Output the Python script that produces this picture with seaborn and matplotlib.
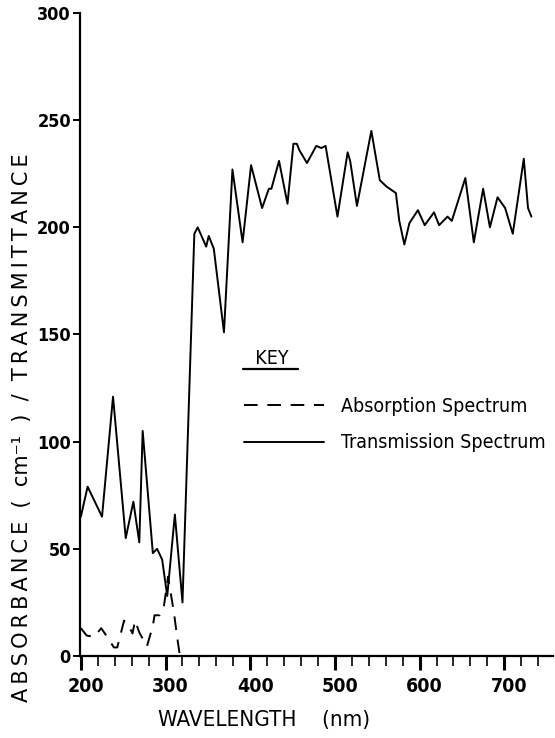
import matplotlib
matplotlib.use("Agg")
import matplotlib.pyplot as plt
import matplotlib.transforms as mtransforms
from matplotlib.ticker import MultipleLocator
from matplotlib.lines import Line2D
import seaborn as sns
import pandas as pd

# ---- data ----
trans_wl = [200, 208, 225, 238, 253, 262, 269, 273, 285, 290, 296, 302, 311, 320,
            334, 338, 348, 351, 357, 369, 379, 391, 401, 414, 422, 425, 434, 444,
            451, 455, 458, 467, 478, 484, 489, 503, 515, 518, 526, 543, 553, 561,
            572, 576, 582, 588, 598, 606, 617, 623, 633, 638, 654, 664, 675, 683,
            692, 701, 710, 723, 728, 732]
trans_val = [65, 79, 65, 121, 55, 72, 53, 105, 48, 50, 45, 28, 66, 25,
             197, 200, 191, 196, 190, 151, 227, 193, 229, 209, 218, 218, 231, 211,
             239, 239, 236, 230, 238, 237, 238, 205, 235, 231, 210, 245, 222, 219,
             216, 203, 192, 202, 208, 201, 207, 201, 205, 203, 223, 193, 218, 200,
             214, 209, 197, 232, 209, 205]

abs_wl = [200, 207, 216, 224, 231, 239, 243, 251, 256, 261, 264, 269, 278, 285,
          287, 293, 298, 303, 310, 314, 317]
abs_val = [13, 9.5, 9, 13, 9, 4, 4, 16.5, 14.5, 10.5, 16.5, 11, 4.5, 14,
           19, 19, 23, 37, 20, 8, 0]

x_ticks = [200, 300, 400, 500, 600, 700]
y_ticks = [0, 50, 100, 150, 200, 250, 300]

legend_title = "  KEY"
abs_label = "Absorption Spectrum"
trans_label = "Transmission Spectrum"
xlabel = "WAVELENGTH    (nm)"
thin = "\u2009"
ylabel = (thin.join("ABSORBANCE") + "  (  cm\u207b\u00b9  )  /  "
          + thin.join("TRANSMITTANCE"))

# ---- style ----
sns.set_style("ticks")
plt.rcParams["font.family"] = ["DejaVu Sans"]
plt.rcParams["font.stretch"] = "condensed"
plt.rcParams["text.color"] = "black"

W, H = 555, 738
fig = plt.figure(figsize=(W / 100, H / 100), dpi=100)
ax = fig.add_axes([80 / W, (H - 656) / H, 473 / W, (656 - 13) / H])

df_t = pd.DataFrame({"wl": trans_wl, "val": trans_val})
df_a = pd.DataFrame({"wl": abs_wl, "val": abs_val})

sns.lineplot(data=df_a, x="wl", y="val", ax=ax, color="black", lw=1.4,
             sort=False, label=abs_label)
sns.lineplot(data=df_t, x="wl", y="val", ax=ax, color="black", lw=1.4,
             sort=False, label=trans_label)
ax.lines[0].set_dashes([7, 5])

ax.set_xlim(199, 757.5)
ax.set_ylim(0, 300)
ax.set_xticks(x_ticks)
ax.xaxis.set_minor_locator(MultipleLocator(20))
ax.set_yticks(y_ticks)
ax.set_xlabel("")
ax.set_ylabel("")

for s in ["top", "right"]:
    ax.spines[s].set_visible(False)
for s in ["left", "bottom"]:
    ax.spines[s].set_linewidth(1.6)
    ax.spines[s].set_color("black")

ax.tick_params(axis="x", which="major", direction="out", length=10, width=2.2,
               labelsize=14, pad=5, colors="black")
ax.tick_params(axis="x", which="minor", direction="out", length=7, width=1.4)
ax.tick_params(axis="y", which="major", direction="out", length=5, width=1.4,
               labelsize=13, pad=1.5, colors="black")
shift = mtransforms.ScaledTranslation(5 / 100, 0, fig.dpi_scale_trans)
for lab in ax.get_xticklabels():
    lab.set_transform(lab.get_transform() + shift)
for lab in ax.get_xticklabels() + ax.get_yticklabels():
    lab.set_fontweight("bold")
    lab.set_fontstretch("condensed")

leg = ax.legend(title=legend_title, loc="upper left",
                bbox_to_anchor=(156 / 473, (656 - 341) / 643),
                frameon=False, handlelength=4.1, handletextpad=0.9,
                labelspacing=0.9, fontsize=14, title_fontsize=14,
                alignment="left", borderaxespad=0)
leg._legend_box.sep = 21
for h in leg.legend_handles:
    h.set_linewidth(1.4)
leg.legend_handles[0].set_dashes([7, 5])
for t in leg.get_texts():
    t.set_color("black")
leg.get_title().set_color("black")

# underline of KEY
fig.add_artist(Line2D([243 / W, 298 / W], [1 - 369 / H, 1 - 369 / H],
                      color="black", lw=1.6))

fig.text(264 / W, 1 - 720 / H, xlabel, ha="center", va="center",
         fontsize=16, fontweight="normal", fontstretch="condensed")
fig.text(22 / W, 1 - 428 / H, ylabel, ha="center", va="center", rotation=90,
         fontsize=15, fontstretch="normal")

fig.savefig("out.png", dpi=100)
